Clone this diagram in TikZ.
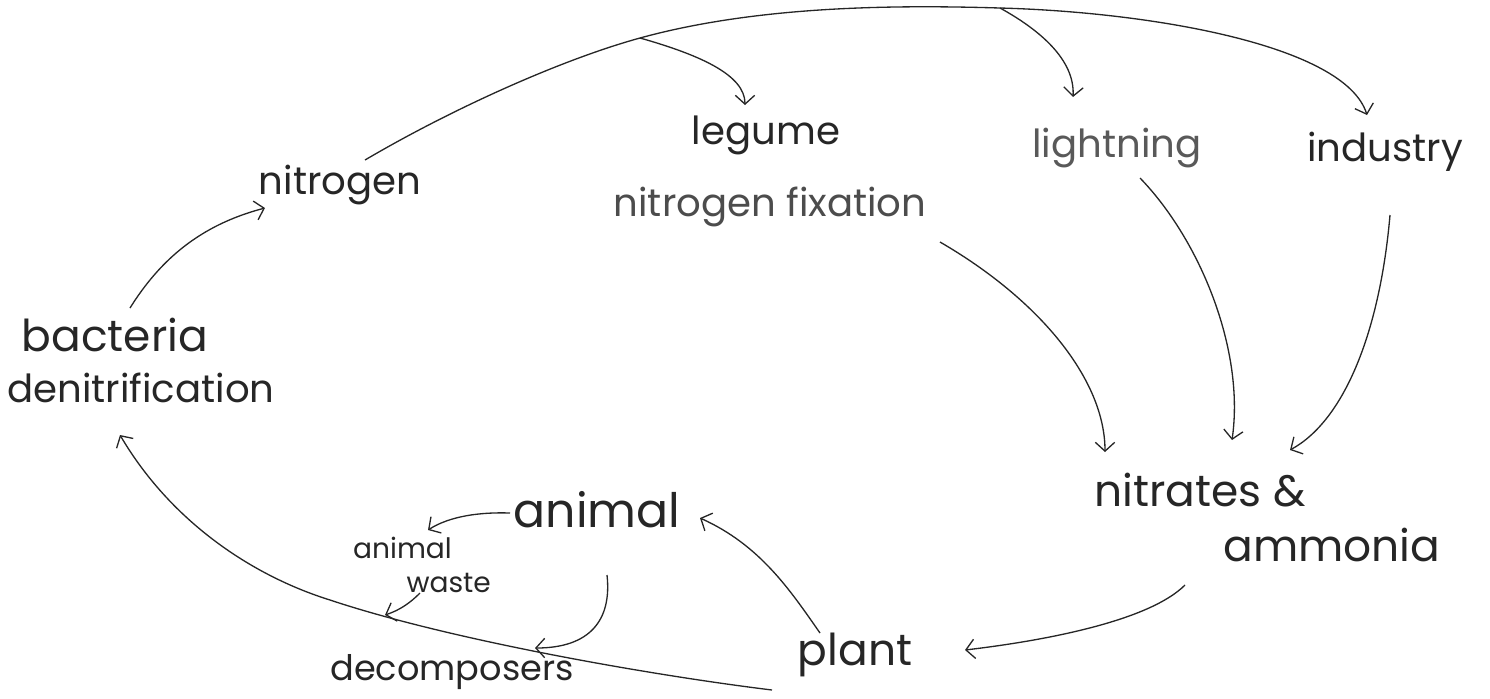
\documentclass[tikz,border=0pt]{standalone}
\usepackage{fontspec}
\setmainfont{Poppins}
\usetikzlibrary{arrows.meta}
\begin{document}
\begin{tikzpicture}[x=0.02cm,y=-0.02cm,
  lbl/.style={inner sep=0pt,text=black!85,font=\fontsize{22}{26}\selectfont},
  big/.style={lbl,font=\fontsize{25}{28}\selectfont},
  small/.style={lbl,align=left,font=\fontsize{16}{19}\selectfont},
  con/.style={draw=black!85,line width=0.75pt,-{Straight Barb[length=5pt,width=11pt]}},
  ln/.style={draw=black!85,line width=0.75pt}]
\useasboundingbox (0,0) rectangle (1490,698);
% nodes
\node[lbl] (nitrogen) at (340,185) {nitrogen};
\node[lbl] (legume) at (766,135) {legume};
\node[lbl,text=black!70] (fix) at (770,207) {nitrogen fixation};
\node[lbl,text=black!65] (lightning) at (1117,148) {lightning};
\node[lbl] (industry) at (1385,152) {industry};
\node[big] (bacteria) at (115,335) {bacteria};
\node[lbl] (denit) at (141,388) {denitrification};
\node[big] (nitrates) at (1200,490) {nitrates \&};
\node[big] (ammonia) at (1332,545) {ammonia};
\node[lbl,font=\fontsize{27}{30}\selectfont] (animal) at (597,510) {animal};
\node[small] (waste) at (422,565) {animal\\\hspace*{1.9em}waste};
\node[lbl,font=\fontsize{20}{24}\selectfont] (decomp) at (452,672) {decomposers};
\node[lbl,font=\fontsize{25}{30}\selectfont] (plant) at (855,655) {plant};
% branch points on the big arc
\coordinate (b1) at (640,38);
\coordinate (b2) at (1000,8);
% connectors
\draw[con] ([shift={(15,-27)}]bacteria.center) .. controls (160,260) and (200,225) .. ([shift={(-75,23)}]nitrogen.center);
\draw[con] ([shift={(25,-25)}]nitrogen.center) .. controls (450,110) and (560,60) .. (b1)
  .. controls (760,5) and (900,5) .. (b2)
  .. controls (1150,12) and (1345,45) .. ([shift={(-18,-37)}]industry.center);
\draw[con] (b1) .. controls (700,55) and (745,75) .. ([shift={(-21,-30)}]legume.center);
\draw[con] (b2) .. controls (1040,30) and (1075,60) .. ([shift={(-44,-51)}]lightning.center);
\draw[con] ([shift={(170,35)}]fix.center) .. controls (1040,300) and (1105,380) .. ([shift={(-95,-38)}]nitrates.center);
\draw[con] ([shift={(23,30)}]lightning.center) .. controls (1200,240) and (1245,350) .. ([shift={(32,-50)}]nitrates.center);
\draw[con] ([shift={(5,63)}]industry.center) .. controls (1380,330) and (1345,420) .. ([shift={(90,-40)}]nitrates.center);
\draw[con] ([shift={(-147,40)}]ammonia.center) .. controls (1150,620) and (1050,640) .. ([shift={(110,-5)}]plant.center);
\draw[con] ([shift={(-35,-22)}]plant.center) .. controls (790,590) and (760,545) .. ([shift={(103,8)}]animal.center);
\draw[con] ([shift={(-87,3)}]animal.center) .. controls (480,512) and (450,516) .. ([shift={(6,-35)}]waste.center);
\draw[con] ([shift={(-2,28)}]waste.center) .. controls (410,603) and (400,610) .. (385,615);
\draw[con] ([shift={(10,65)}]animal.center) .. controls (612,620) and (590,648) .. ([shift={(83,-24)}]decomp.center);
\draw[con] ([shift={(-83,35)}]plant.center) .. controls (650,675) and (450,640) .. (330,600)
  .. controls (250,575) and (170,520) .. ([shift={(-21,47)}]denit.center);
\end{tikzpicture}
\end{document}
